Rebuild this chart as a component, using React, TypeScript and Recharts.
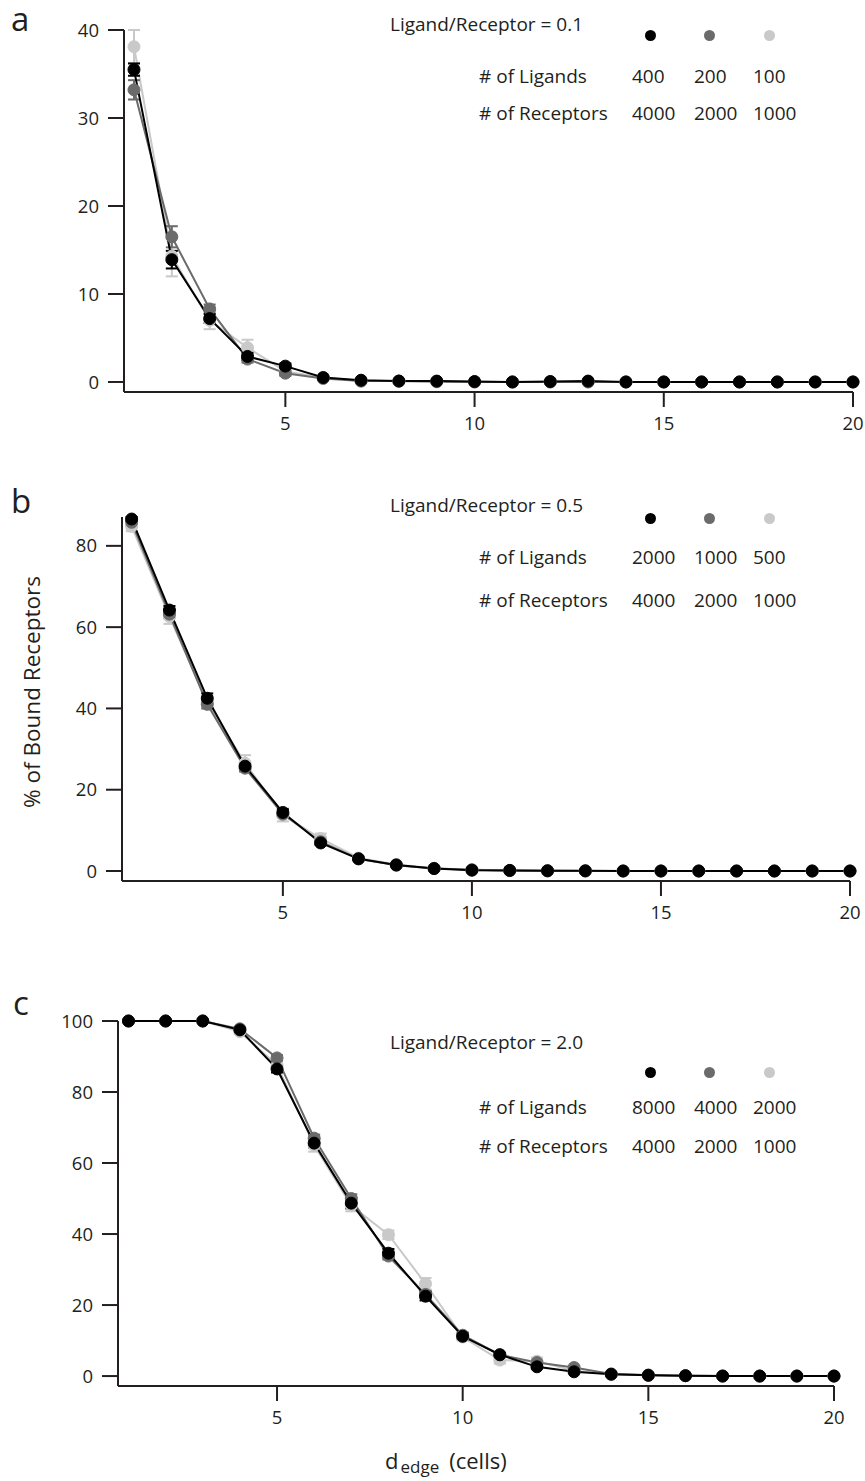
import React from 'react';
import { LineChart, Line, XAxis, YAxis, ErrorBar } from 'recharts';

const FONT = '"Open Sans", "Noto Sans", sans-serif';
const INK = '#231f20';
const C_BLACK = '#000000';
const C_GRAY = '#6b6b6b';
const C_LIGHT = '#c9c9c9';

// distance from edge (cells)
const dEdge = [1, 2, 3, 4, 5, 6, 7, 8, 9, 10, 11, 12, 13, 14, 15, 16, 17, 18, 19, 20];
const xTicks = [5, 10, 15, 20];

// panel a: Ligand/Receptor = 0.1
const aBlack = [35.5, 13.9, 7.2, 2.9, 1.8, 0.5, 0.2, 0.1, 0.1, 0.05, 0, 0.05, 0.1, 0, 0, 0, 0, 0, 0, 0];
const aBlackErr = [0.7, 1.0, 0.5, 0.4, 0.3, 0.1, 0.1, 0, 0, 0, 0, 0, 0, 0, 0, 0, 0, 0, 0, 0];
const aGray = [33.2, 16.5, 8.3, 2.6, 1.0, 0.4, 0.1, 0.1, 0.05, 0, 0, 0, 0, 0, 0, 0, 0, 0, 0, 0];
const aGrayErr = [1.1, 1.2, 0.5, 0.4, 0.3, 0.1, 0.1, 0, 0, 0, 0, 0, 0, 0, 0, 0, 0, 0, 0, 0];
const aLight = [38.1, 14.3, 7.0, 3.9, 1.2, 0.5, 0.1, 0.1, 0, 0, 0, 0, 0, 0, 0, 0, 0, 0, 0, 0];
const aLightErr = [1.9, 2.3, 1.0, 0.9, 0.4, 0.1, 0.1, 0, 0, 0, 0, 0, 0, 0, 0, 0, 0, 0, 0, 0];
const aYTicks = [0, 10, 20, 30, 40];

// panel b: Ligand/Receptor = 0.5
const bBlack = [86.6, 64.2, 42.5, 25.8, 14.4, 6.9, 3.0, 1.5, 0.6, 0.2, 0.15, 0.05, 0.05, 0, 0, 0, 0, 0, 0, 0];
const bBlackErr = [0.5, 1.0, 1.2, 0.8, 0.8, 0.5, 0.3, 0.2, 0.1, 0, 0, 0, 0, 0, 0, 0, 0, 0, 0, 0];
const bGray = [85.8, 63.2, 41.0, 25.3, 14.0, 7.2, 3.0, 1.4, 0.6, 0.3, 0.1, 0.05, 0, 0, 0, 0, 0, 0, 0, 0];
const bGrayErr = [0.8, 1.0, 1.0, 0.8, 0.8, 0.6, 0.3, 0.2, 0.1, 0, 0, 0, 0, 0, 0, 0, 0, 0, 0, 0];
const bLight = [84.8, 62.6, 41.5, 26.5, 13.8, 8.0, 3.2, 1.6, 0.7, 0.3, 0.1, 0.05, 0, 0, 0, 0, 0, 0, 0, 0];
const bLightErr = [1.2, 1.8, 1.5, 2.0, 1.6, 1.2, 0.5, 0.3, 0.2, 0.1, 0, 0, 0, 0, 0, 0, 0, 0, 0, 0];
const bYTicks = [0, 20, 40, 60, 80];

// panel c: Ligand/Receptor = 2.0
const cBlack = [100, 100, 100, 97.5, 86.5, 65.6, 48.7, 34.6, 22.5, 11.2, 6.0, 2.6, 1.2, 0.5, 0.2, 0.1, 0, 0, 0, 0];
const cBlackErr = [0, 0, 0, 0.5, 1.0, 1.2, 1.5, 1.2, 1.2, 0.8, 0.5, 0.4, 0.3, 0.1, 0, 0, 0, 0, 0, 0];
const cGray = [100, 100, 100, 97.8, 89.6, 67.0, 50.0, 33.8, 23.0, 11.5, 6.0, 3.8, 2.4, 0.6, 0.3, 0.1, 0, 0, 0, 0];
const cGrayErr = [0, 0, 0, 0.5, 0.8, 1.0, 1.2, 1.0, 1.0, 0.8, 0.6, 0.5, 0.4, 0.1, 0, 0, 0, 0, 0, 0];
const cLight = [100, 100, 100, 97.0, 87.5, 65.0, 48.0, 39.8, 26.0, 11.0, 4.5, 4.2, 1.5, 0.5, 0.2, 0.1, 0, 0, 0, 0];
const cLightErr = [0, 0, 0, 0.6, 1.2, 1.8, 1.6, 1.2, 1.6, 1.0, 1.0, 1.0, 0.5, 0.2, 0, 0, 0, 0, 0, 0];
const cYTicks = [0, 20, 40, 60, 80, 100];

const legendA = { ratio: '0.1', ligands: ['400', '200', '100'], receptors: ['4000', '2000', '1000'] };
const legendB = { ratio: '0.5', ligands: ['2000', '1000', '500'], receptors: ['4000', '2000', '1000'] };
const legendC = { ratio: '2.0', ligands: ['8000', '4000', '2000'], receptors: ['4000', '2000', '1000'] };

const buildRows = (
  black: number[], blackErr: number[],
  gray: number[], grayErr: number[],
  light: number[], lightErr: number[],
) =>
  dEdge.map((d, i) => ({
    d,
    black: black[i], blackErr: blackErr[i],
    gray: gray[i], grayErr: grayErr[i],
    light: light[i], lightErr: lightErr[i],
  }));

interface PanelProps {
  top: number;
  height: number;
  margin: { top: number; right: number; bottom: number; left: number };
  xDomain: [number, number];
  yDomain: [number, number];
  yTicks: number[];
  rows: ReturnType<typeof buildRows>;
}

const tickStyle = { fill: INK, fontSize: 18.5, fontFamily: FONT };

const Panel: React.FC<PanelProps> = ({ top, height, margin, xDomain, yDomain, yTicks, rows }) => (
  <div style={{ position: 'absolute', left: 0, top, width: 865, height }}>
    <LineChart width={865} height={height} data={rows} margin={margin}>
      <XAxis
        dataKey="d"
        type="number"
        domain={xDomain}
        ticks={xTicks}
        tickSize={15}
        tickMargin={10}
        height={30}
        stroke={INK}
        strokeWidth={2}
        tick={tickStyle}
        tickLine={{ stroke: INK, strokeWidth: 2 }}
      />
      <YAxis
        type="number"
        domain={yDomain}
        ticks={yTicks}
        width={60}
        tickSize={16}
        tickMargin={9}
        stroke={INK}
        strokeWidth={2}
        tick={tickStyle}
        tickLine={{ stroke: INK, strokeWidth: 2 }}
      />
      {[
        { key: 'light', color: C_LIGHT },
        { key: 'gray', color: C_GRAY },
        { key: 'black', color: C_BLACK },
      ].map(s => (
        <Line
          key={s.key}
          type="linear"
          dataKey={s.key}
          stroke={s.color}
          strokeWidth={2}
          dot={{ r: 6, fill: s.color, stroke: s.color, strokeWidth: 1 }}
          activeDot={false}
          isAnimationActive={false}
        >
          <ErrorBar dataKey={`${s.key}Err`} direction="y" width={6} stroke={s.color} strokeWidth={2} />
        </Line>
      ))}
    </LineChart>
  </div>
);

interface LegendProps {
  top: number;
  info: { ratio: string; ligands: string[]; receptors: string[] };
  dotDy: number;
  ligDy: number;
  recDy: number;
}

const colX = [632, 694, 753];
const dotX = [650, 709, 769];
const dotColors = [C_BLACK, C_GRAY, C_LIGHT];

const txt = (left: number, cy: number, s: string, key?: string) => (
  <div
    key={key}
    style={{ position: 'absolute', left, top: cy - 13, height: 26, lineHeight: '26px', fontSize: 19, color: INK, whiteSpace: 'nowrap' }}
  >
    {s}
  </div>
);

const PanelLegend: React.FC<LegendProps> = ({ top, info, dotDy, ligDy, recDy }) => (
  <>
    {txt(390, top, `Ligand/Receptor = ${info.ratio}`)}
    {dotX.map((x, i) => (
      <div
        key={'dot' + i}
        style={{ position: 'absolute', left: x - 5.5, top: top + dotDy - 5.5, width: 11, height: 11, borderRadius: '50%', background: dotColors[i] }}
      />
    ))}
    {txt(479, top + ligDy, '# of Ligands')}
    {info.ligands.map((v, i) => txt(colX[i], top + ligDy, v, 'l' + i))}
    {txt(479, top + recDy, '# of Receptors')}
    {info.receptors.map((v, i) => txt(colX[i], top + recDy, v, 'r' + i))}
  </>
);

const letter = (left: number, top: number, s: string) => (
  <div style={{ position: 'absolute', left, top, fontSize: 33, lineHeight: '33px', color: INK }}>{s}</div>
);

export default function App() {
  const rowsA = buildRows(aBlack, aBlackErr, aGray, aGrayErr, aLight, aLightErr);
  const rowsB = buildRows(bBlack, bBlackErr, bGray, bGrayErr, bLight, bLightErr);
  const rowsC = buildRows(cBlack, cBlackErr, cGray, cGrayErr, cLight, cLightErr);

  return (
    <div style={{ position: 'absolute', left: 0, top: 0, width: 865, height: 1481, background: '#fff', fontFamily: FONT, overflow: 'hidden' }}>
      <Panel
        top={0}
        height={450}
        margin={{ top: 30, right: 12, bottom: 28, left: 64 }}
        xDomain={[0.736, 20]}
        yDomain={[-1.14, 40]}
        yTicks={aYTicks}
        rows={rowsA}
      />
      <Panel
        top={480}
        height={450}
        margin={{ top: 37, right: 15, bottom: 19, left: 62 }}
        xDomain={[0.745, 20]}
        yDomain={[-2.46, 87.1]}
        yTicks={bYTicks}
        rows={rowsB}
      />
      <Panel
        top={960}
        height={480}
        margin={{ top: 61, right: 31, bottom: 24, left: 58 }}
        xDomain={[0.717, 20]}
        yDomain={[-2.8, 100]}
        yTicks={cYTicks}
        rows={rowsC}
      />

      {letter(11, 2, 'a')}
      {letter(11, 484, 'b')}
      {letter(13, 986, 'c')}

      <PanelLegend top={24} info={legendA} dotDy={11} ligDy={52} recDy={89} />
      <PanelLegend top={505} info={legendB} dotDy={13} ligDy={52} recDy={95} />
      <PanelLegend top={1042} info={legendC} dotDy={30} ligDy={65} recDy={104} />

      <div
        style={{
          position: 'absolute', left: 31, top: 692, transform: 'translate(-50%, -50%) rotate(-90deg)',
          fontSize: 22.5, color: INK, whiteSpace: 'nowrap',
        }}
      >
        % of Bound Receptors
      </div>

      <div style={{ position: 'absolute', left: 385, top: 1446, fontSize: 22, color: INK, whiteSpace: 'nowrap', lineHeight: '28px' }}>
        d<sub style={{ fontSize: 17, verticalAlign: '-4px', marginLeft: 2 }}>edge</sub>
        <span style={{ marginLeft: 10 }}>(cells)</span>
      </div>
    </div>
  );
}
